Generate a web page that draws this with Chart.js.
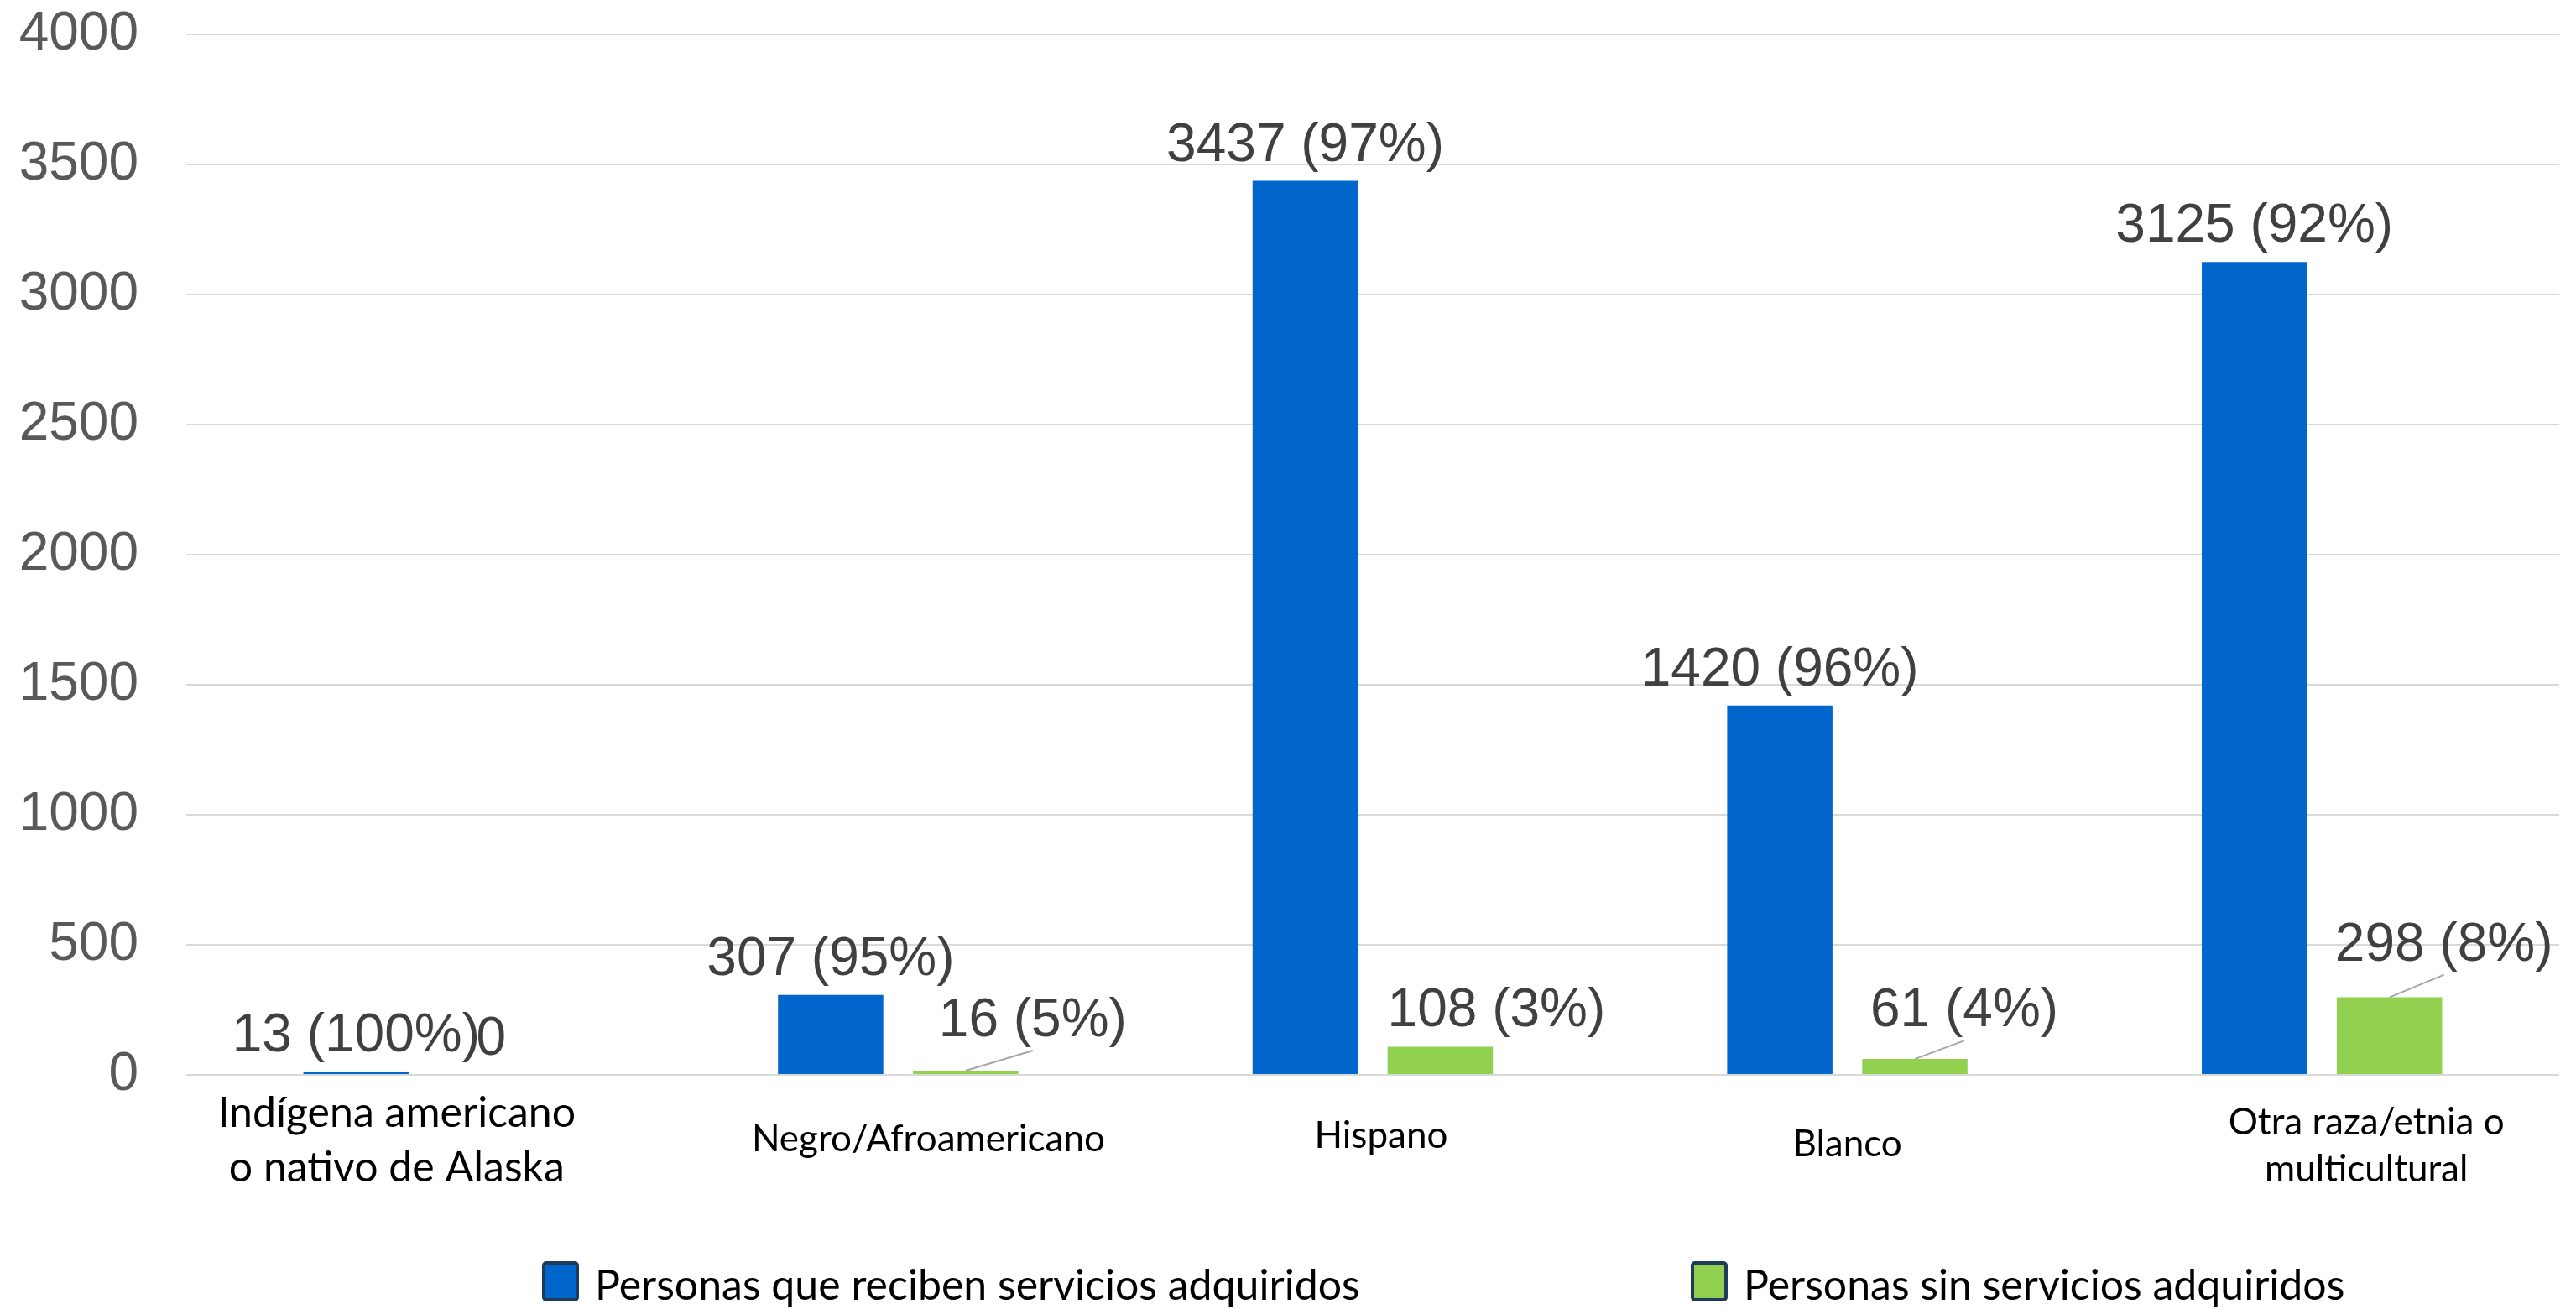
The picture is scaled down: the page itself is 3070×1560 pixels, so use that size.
<!DOCTYPE html>
<html>
<head>
<meta charset="utf-8">
<script src="https://cdn.jsdelivr.net/npm/chart.js@4.4.1/dist/chart.umd.min.js"></script>
<style>
  html, body { margin: 0; padding: 0; background: #ffffff; }
  canvas { display: block; }
</style>
</head>
<body>
<canvas id="chart" width="3070" height="1560"></canvas>
<script>
// Categories (multi-line labels are split into rows)
const categories = [
  ['Indígena americano', 'o nativo de Alaska'],
  ['Negro/Afroamericano'],
  ['Hispano'],
  ['Blanco'],
  ['Otra raza/etnia o', 'multicultural']
];

const seriesNames = [
  'Personas que reciben servicios adquiridos',
  'Personas sin servicios adquiridos'
];

// People receiving purchased services, and their share of each group
const withServices = [13, 307, 3437, 1420, 3125];
const withServicesPct = [100, 95, 97, 96, 92];

// People without purchased services
const withoutServices = [0, 16, 108, 61, 298];
const withoutServicesPct = [null, 5, 3, 4, 8];

const yMin = 0;
const yMax = 4000;
const yStep = 500;

const colors = ['#0066CC', '#92D050'];

// Data label placement: [dx, dy] from the top centre of each bar
const labelShift = [
  [[0, -24], [0, -24], [0, -24], [0, -24], [0, -24]],
  [[0, -24], [80, -41], [67, -25], [59, -39], [65, -44]]
];

// Category label placement under the axis: font size, x shift, baseline of each row
const catLabelLayout = [
  { size: 50, dx: -32, rows: [62, 127] },
  { size: 44, dx: 36, rows: [91] },
  { size: 44, dx: 10, rows: [87] },
  { size: 44, dx: 0, rows: [97] },
  { size: 44, dx: 53, rows: [71, 127] }
];

const pctSeries = [withServicesPct, withoutServicesPct];

function labelText(value, pct) {
  return pct == null ? String(value) : value + ' (' + pct + '%)';
}

const barLabels = {
  id: 'barLabels',
  afterDatasetsDraw(chart) {
    const ctx = chart.ctx;
    ctx.save();
    ctx.font = '64px "Liberation Sans", Arial, sans-serif';
    ctx.textAlign = 'center';
    ctx.textBaseline = 'alphabetic';
    chart.data.datasets.forEach((ds, i) => {
      const meta = chart.getDatasetMeta(i);
      meta.data.forEach((bar, j) => {
        const [dx, dy] = labelShift[i][j];
        const tx = bar.x + dx;
        const ty = bar.y + dy;
        // leader line when the label has been pulled away from its bar
        const lineEnd = ty + 17;
        if (dx !== 0 && bar.y - lineEnd > 12) {
          ctx.strokeStyle = '#a6a6a6';
          ctx.lineWidth = 2;
          ctx.beginPath();
          ctx.moveTo(bar.x, bar.y);
          ctx.lineTo(tx, lineEnd);
          ctx.stroke();
        }
        ctx.fillStyle = '#404040';
        ctx.fillText(labelText(ds.data[j], pctSeries[i][j]), tx, ty);
      });
    });
    ctx.restore();
  }
};

const categoryLabels = {
  id: 'categoryLabels',
  afterDraw(chart) {
    const ctx = chart.ctx;
    const xScale = chart.scales.x;
    const bottom = chart.chartArea.bottom;
    ctx.save();
    ctx.fillStyle = '#000000';
    ctx.textAlign = 'center';
    ctx.textBaseline = 'alphabetic';
    categories.forEach((rows, i) => {
      const lay = catLabelLayout[i];
      const x = xScale.getPixelForTick(i) + lay.dx;
      ctx.font = lay.size + 'px Lato, "Open Sans", sans-serif';
      rows.forEach((row, r) => ctx.fillText(row, x, bottom + lay.rows[r]));
    });
    ctx.restore();
  }
};

const legendRow = {
  id: 'legendRow',
  afterDraw(chart) {
    const ctx = chart.ctx;
    const itemX = [646, 2015];
    const boxTop = 1503;
    ctx.save();
    ctx.font = '50px Lato, "Open Sans", sans-serif';
    ctx.textBaseline = 'alphabetic';
    ctx.textAlign = 'left';
    chart.data.datasets.forEach((ds, i) => {
      const x = itemX[i];
      ctx.fillStyle = ds.backgroundColor;
      ctx.strokeStyle = '#203a5c';
      ctx.lineWidth = 4;
      ctx.beginPath();
      ctx.roundRect(x + 2, boxTop + 2, 40, 44, 3);
      ctx.fill();
      ctx.stroke();
      ctx.fillStyle = '#000000';
      ctx.fillText(ds.label, x + 63, 1549);
    });
    ctx.restore();
  }
};

new Chart(document.getElementById('chart'), {
  type: 'bar',
  data: {
    labels: categories,
    datasets: [
      { label: seriesNames[0], data: withServices, backgroundColor: colors[0] },
      { label: seriesNames[1], data: withoutServices, backgroundColor: colors[1] }
    ]
  },
  options: {
    responsive: false,
    animation: false,
    devicePixelRatio: 1,
    layout: { padding: { top: 41, right: 20, bottom: 279, left: 0 } },
    datasets: {
      bar: { categoryPercentage: 0.569, barPercentage: 0.78 }
    },
    scales: {
      x: {
        grid: { display: false },
        border: { display: false },
        ticks: { display: false },
        afterFit: scale => { scale.height = 0; }
      },
      y: {
        min: yMin,
        max: yMax,
        ticks: {
          stepSize: yStep,
          padding: 0,
          color: '#595959',
          font: { family: '"Liberation Sans", Arial, sans-serif', size: 64 },
          callback: v => String(v)
        },
        // invisible tick marks keep the labels clear of the grid
        grid: { color: '#d9d9d9', lineWidth: 2, drawTicks: true, tickLength: 57, tickColor: 'rgba(0,0,0,0)' },
        border: { display: false },
        afterFit: scale => { scale.width = 222; }
      }
    },
    plugins: {
      legend: { display: false },
      tooltip: { enabled: false }
    }
  },
  plugins: [barLabels, categoryLabels, legendRow]
});
</script>
</body>
</html>
